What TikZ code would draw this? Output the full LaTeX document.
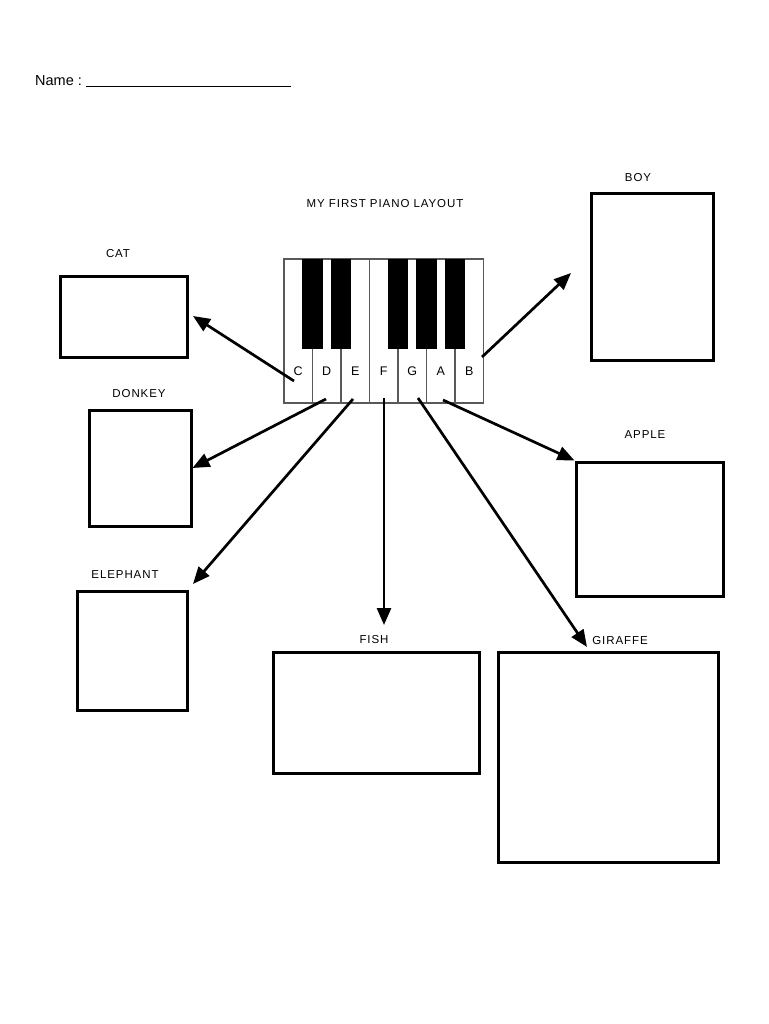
\documentclass[tikz,border=0pt]{standalone}
\usepackage{fontspec}
\setmainfont{Liberation Sans}
\newfontfamily\handfont[LetterSpace=8]{Liberation Sans}
\usetikzlibrary{positioning, arrows.meta, calc}

\begin{document}
\begin{tikzpicture}[
    x=1pt, y=-1pt,
    arrow/.style={
        -{Triangle[length=17pt,width=14pt]},
        line width=2.7pt
    },
    box/.style={
        rectangle,
        draw,
        line width=3pt,
        inner sep=0pt,
        anchor=north west
    },
    caption/.style={
        font=\handfont\fontsize{11.5}{13}\selectfont,
        inner sep=0pt
    },
    whitekey/.style={
        rectangle,
        draw=black!65,
        line width=1.1pt,
        fill=white,
        inner sep=0pt,
        outer sep=0pt,
        minimum width=28.5pt,
        minimum height=144pt
    },
    blackkey/.style={
        rectangle,
        fill=black,
        inner sep=0pt,
        anchor=north,
        minimum width=20.5pt,
        minimum height=90pt
    },
    keyname/.style={
        font=\fontsize{12.5}{14}\selectfont,
        inner sep=0pt
    }
]
    \useasboundingbox (0,0) rectangle (768,1024);

    % Header
    \node[anchor=base west, inner sep=0pt, font=\fontsize{14.5}{16}\selectfont] (name) at (35,86)
        {Name :\hspace{4pt}\rule[-1pt]{205pt}{0.7pt}};
    \node[caption] (title) at (385,204) {MY FIRST PIANO LAYOUT};

    % Piano keys
    \node[whitekey, anchor=north west] (kC) at (284,259) {};
    \node[whitekey, right=0pt of kC] (kD) {};
    \node[whitekey, right=0pt of kD] (kE) {};
    \node[whitekey, right=0pt of kE] (kF) {};
    \node[whitekey, right=0pt of kF] (kG) {};
    \node[whitekey, right=0pt of kG] (kA) {};
    \node[whitekey, right=0pt of kA] (kB) {};

    \node[blackkey] (bCD) at (kC.north east) {};
    \node[blackkey] (bDE) at (kD.north east) {};
    \node[blackkey] (bFG) at (kF.north east) {};
    \node[blackkey] (bGA) at (kG.north east) {};
    \node[blackkey] (bAB) at (kA.north east) {};

    \node[keyname, above=27pt of kC.south] (lC) {C};
    \node[keyname, above=27pt of kD.south] (lD) {D};
    \node[keyname, above=27pt of kE.south] (lE) {E};
    \node[keyname, above=27pt of kF.south] (lF) {F};
    \node[keyname, above=27pt of kG.south] (lG) {G};
    \node[keyname, above=27pt of kA.south] (lA) {A};
    \node[keyname, above=27pt of kB.south] (lB) {B};

    % Answer boxes
    \node[box, minimum width=127pt, minimum height=81pt] (cat) at (58.5,274.5) {};
    \node[caption] (catlbl) at (118,254) {CAT};

    \node[box, minimum width=102pt, minimum height=116pt] (donkey) at (87.5,408.5) {};
    \node[caption] (donkeylbl) at (139,394) {DONKEY};

    \node[box, minimum width=110pt, minimum height=119pt] (elephant) at (75.5,589.5) {};
    \node[caption] (elephantlbl) at (125,575) {ELEPHANT};

    \node[box, minimum width=206pt, minimum height=121pt] (fish) at (271.5,650.5) {};
    \node[caption] (fishlbl) at (374,640) {FISH};

    \node[box, minimum width=220pt, minimum height=210pt] (giraffe) at (496.5,650.5) {};
    \node[caption] (giraffelbl) at (620,641) {GIRAFFE};

    \node[box, minimum width=147pt, minimum height=134pt] (apple) at (574.5,460.5) {};
    \node[caption] (applelbl) at (645,435) {APPLE};

    \node[box, minimum width=122pt, minimum height=166pt] (boy) at (589.5,192.5) {};
    \node[caption] (boylbl) at (638,178) {BOY};

    % Arrow ends
    \coordinate (fromC) at (294,381);
    \coordinate (fromD) at (326,399);
    \coordinate (fromE) at (353,399);
    \coordinate (fromF) at (384,398);
    \coordinate (fromG) at (418,398);
    \coordinate (fromA) at (443,400);
    \coordinate (fromB) at (482,357);
    \coordinate (toCat) at (193,316);
    \coordinate (toElephant) at (193,584);
    \coordinate (toFish) at (384,625);
    \coordinate (toGiraffe) at (587,647);
    \coordinate (toBoy) at (571,273);

    % Connections
    \draw[arrow] (fromC) -- (toCat);
    \draw[arrow] (fromD) -- (donkey.east);
    \draw[arrow] (fromE) -- (toElephant);
    \draw[arrow] (fromF) -- (toFish);
    \draw[arrow] (fromG) -- (toGiraffe);
    \draw[arrow] (fromA) -- (apple.north west);
    \draw[arrow] (fromB) -- (toBoy);

\end{tikzpicture}
\end{document}
